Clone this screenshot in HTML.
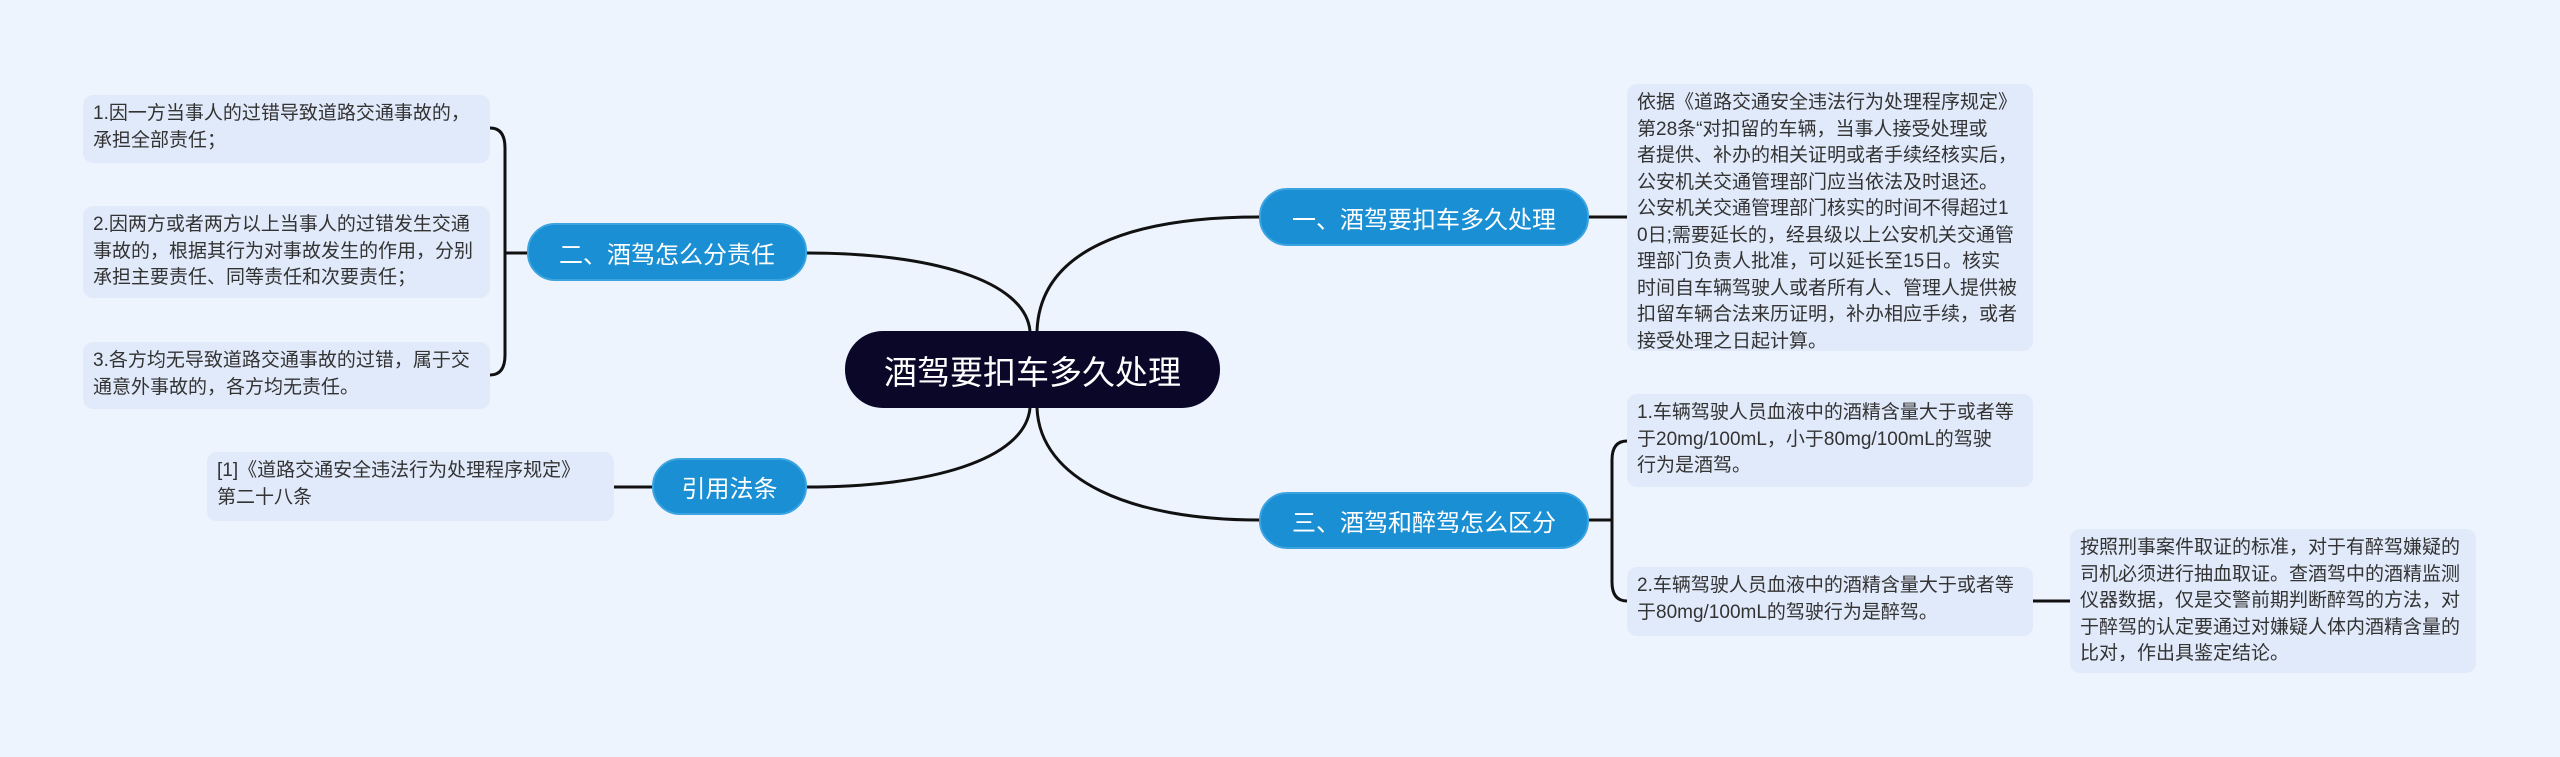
<!DOCTYPE html>
<html><head><meta charset="utf-8">
<style>
body{margin:0;width:2560px;height:757px;background:#eef4fe;position:relative;overflow:hidden;font-family:"Liberation Sans","Noto Sans CJK SC",sans-serif;}
.b{position:absolute;background:#e1eafa;border-radius:10px;color:#333;font-size:19px;line-height:26.5px;padding:6px 10px;box-sizing:border-box;white-space:nowrap;}
.n{position:absolute;background:#1a8fd4;border:2px solid #3aa3e0;border-radius:28px;color:#fff;font-size:24px;display:flex;align-items:center;justify-content:center;box-sizing:border-box;white-space:nowrap;}
.c{position:absolute;background:#0b0728;border-radius:38px;color:#fff;font-size:33px;display:flex;align-items:center;justify-content:center;white-space:nowrap;}
svg{position:absolute;left:0;top:0;}
</style></head><body>
<svg width="2560" height="757" fill="none" stroke="#111" stroke-width="3">
<path d="M1037,331 C1040,250 1130,217 1259,217"/>
<path d="M1037,408 C1040,480 1130,520 1259,520"/>
<path d="M1030,331 C1025,280 930,253 807,253"/>
<path d="M1030,408 C1025,460 930,487 807,487"/>
<path d="M1589,217 L1627,217"/>
<path d="M1589,520 L1612,520"/>
<path d="M1627,441 Q1612,441 1612,460 L1612,582 Q1612,601 1627,601"/>
<path d="M2033,601 L2070,601"/>
<path d="M527,253 L505,253"/>
<path d="M490,128 Q505,128 505,148 L505,355 Q505,375 490,375"/>
<path d="M652,487 L614,487"/>
</svg>
<div class="c" style="left:845px;top:331px;width:375px;height:77px;">酒驾要扣车多久处理</div>
<div class="n" style="left:1259px;top:188px;width:330px;height:58px;">一、酒驾要扣车多久处理</div>
<div class="n" style="left:1259px;top:492px;width:330px;height:57px;">三、酒驾和醉驾怎么区分</div>
<div class="n" style="left:527px;top:223px;width:280px;height:58px;">二、酒驾怎么分责任</div>
<div class="n" style="left:652px;top:458px;width:155px;height:57px;">引用法条</div>
<div class="b" style="left:83px;top:95px;width:407px;height:68px;">1.因一方当事人的过错导致道路交通事故的，<br>承担全部责任；</div>
<div class="b" style="left:83px;top:206px;width:407px;height:92px;">2.因两方或者两方以上当事人的过错发生交通<br>事故的，根据其行为对事故发生的作用，分别<br>承担主要责任、同等责任和次要责任；</div>
<div class="b" style="left:83px;top:342px;width:407px;height:67px;">3.各方均无导致道路交通事故的过错，属于交<br>通意外事故的，各方均无责任。</div>
<div class="b" style="left:207px;top:452px;width:407px;height:69px;">[1]《道路交通安全违法行为处理程序规定》<br>第二十八条</div>
<div class="b" style="left:1627px;top:84px;width:406px;height:267px;">依据《道路交通安全违法行为处理程序规定》<br>第28条“对扣留的车辆，当事人接受处理或<br>者提供、补办的相关证明或者手续经核实后，<br>公安机关交通管理部门应当依法及时退还。<br>公安机关交通管理部门核实的时间不得超过1<br>0日;需要延长的，经县级以上公安机关交通管<br>理部门负责人批准，可以延长至15日。核实<br>时间自车辆驾驶人或者所有人、管理人提供被<br>扣留车辆合法来历证明，补办相应手续，或者<br>接受处理之日起计算。</div>
<div class="b" style="left:1627px;top:394px;width:406px;height:93px;">1.车辆驾驶人员血液中的酒精含量大于或者等<br>于20mg/100mL，小于80mg/100mL的驾驶<br>行为是酒驾。</div>
<div class="b" style="left:1627px;top:567px;width:406px;height:69px;">2.车辆驾驶人员血液中的酒精含量大于或者等<br>于80mg/100mL的驾驶行为是醉驾。</div>
<div class="b" style="left:2070px;top:529px;width:406px;height:144px;">按照刑事案件取证的标准，对于有醉驾嫌疑的<br>司机必须进行抽血取证。查酒驾中的酒精监测<br>仪器数据，仅是交警前期判断醉驾的方法，对<br>于醉驾的认定要通过对嫌疑人体内酒精含量的<br>比对，作出具鉴定结论。</div>
</body></html>
